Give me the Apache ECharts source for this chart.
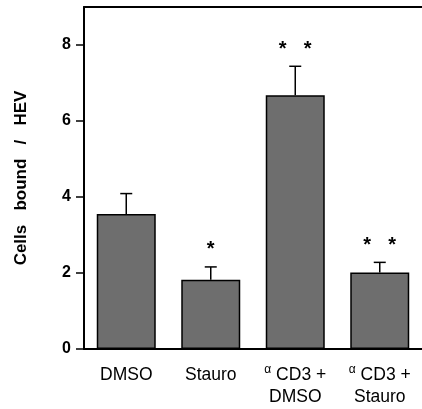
<!DOCTYPE html>
<html><head><meta charset="utf-8">
<script src="https://cdn.jsdelivr.net/npm/echarts@6/dist/echarts.min.js"></script>
<style>html,body{margin:0;padding:0;background:#fff}#c{width:422px;height:409px}</style>
</head><body><div id="c"></div>
<script>
const categories = ['DMSO', 'Stauro', 'α CD3 +\nDMSO', 'α CD3 +\nStauro'];
const means = [3.55, 1.82, 6.68, 2.01];
const errTops = [4.09, 2.16, 7.44, 2.28];
const stars = [0, 1, 2, 2];
const yTicks = [0, 2, 4, 6, 8];
const yName = 'Cells   bound   /   HEV';

const chart = echarts.init(document.getElementById('c'), null, {renderer: 'canvas'});
const FONT = 'Liberation Sans, Arial, sans-serif';
chart.setOption({
  animation: false,
  grid: {left: 84, right: -3, top: 7, bottom: 60},
  xAxis: [{
    type: 'category', data: categories, position: 'bottom',
    axisLine: {lineStyle: {color: '#000', width: 2}},
    axisTick: {alignWithLabel: true, length: 9, interval: 0, lineStyle: {color: '#000', width: 1.5}},
    axisLabel: {interval: 0, margin: 15, color: '#000', fontFamily: FONT, fontSize: 17.5, lineHeight: 22,
      formatter: v => v.replace(/α/g, '{a|α}'),
      rich: {a: {fontSize: 12, verticalAlign: 'top', fontFamily: FONT, color: '#000'}}}
  }, {
    type: 'category', data: categories, position: 'top',
    axisLine: {lineStyle: {color: '#000', width: 2}},
    axisTick: {show: false}, axisLabel: {show: false}
  }],
  yAxis: {
    type: 'value', min: 0, max: 9,
    name: yName, nameLocation: 'middle', nameGap: 54, nameRotate: 90,
    nameTextStyle: {fontFamily: FONT, fontSize: 17, fontWeight: 'bold', color: '#000'},
    axisLine: {show: true, lineStyle: {color: '#000', width: 2}},
    axisTick: {show: true, length: 8, customValues: yTicks, lineStyle: {color: '#000', width: 1.5}},
    axisLabel: {customValues: yTicks, margin: 13, color: '#000', fontFamily: FONT, fontSize: 16, fontWeight: 'bold'},
    splitLine: {show: false}
  },
  series: [{
    type: 'bar', data: means, barWidth: 59,
    itemStyle: {color: '#6e6e6e', borderColor: '#000', borderWidth: 1.5}
  }, {
    type: 'custom',
    data: means.map((m, i) => [i, m, errTops[i], stars[i]]),
    renderItem: (params, api) => {
      const i = api.value(0);
      const b = api.coord([i, api.value(1)]);
      const t = api.coord([i, api.value(2)]);
      const n = api.value(3);
      const st = {stroke: '#000', lineWidth: 1.5};
      const children = [
        {type: 'line', shape: {x1: b[0], y1: b[1], x2: t[0], y2: t[1]}, style: st},
        {type: 'line', shape: {x1: t[0] - 6, y1: t[1], x2: t[0] + 6, y2: t[1]}, style: st}
      ];
      const offs = n === 1 ? [0] : n === 2 ? [-12.5, 12.5] : [];
      offs.forEach(o => children.push({
        type: 'text', x: t[0] + o, y: t[1] - 17,
        style: {text: '*', fontSize: 20, fontWeight: 'bold', fontFamily: FONT, fill: '#000', align: 'center', verticalAlign: 'middle'}
      }));
      return {type: 'group', children};
    },
    z: 5
  }]
});
</script></body></html>
